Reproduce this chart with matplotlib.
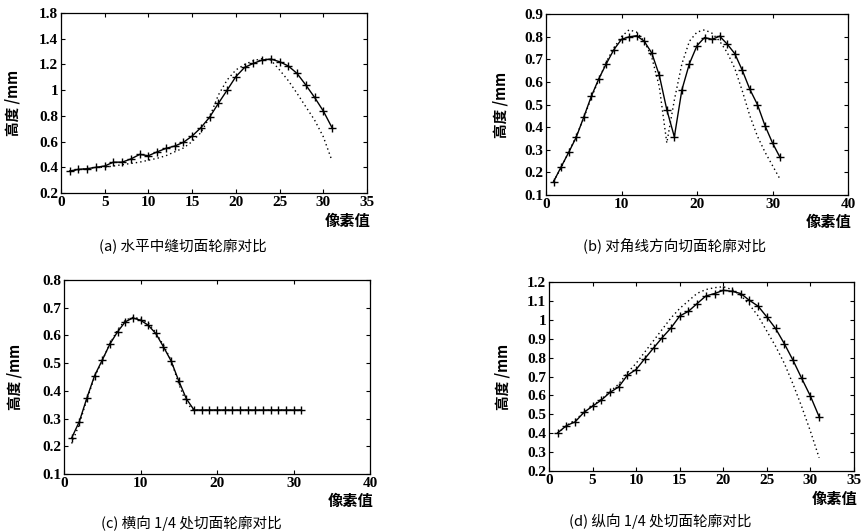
import matplotlib
matplotlib.use("Agg")
import matplotlib.pyplot as plt
import numpy as np

plt.rcParams['font.family'] = ['Liberation Serif', 'Noto Sans CJK SC', 'DejaVu Sans']

# ---------------- data ----------------
pixels = list(range(1, 32))

a_measured = [0.371, 0.384, 0.389, 0.400, 0.41, 0.44, 0.44, 0.465, 0.50, 0.49,
              0.52, 0.547, 0.565, 0.594, 0.643, 0.708, 0.79, 0.897, 1.00, 1.105,
              1.177, 1.208, 1.234, 1.242, 1.221, 1.188, 1.13, 1.04, 0.944, 0.838, 0.708]
a_model = [0.37, 0.38, 0.39, 0.40, 0.40, 0.41, 0.42, 0.43, 0.44, 0.455,
           0.47, 0.49, 0.52, 0.55, 0.60, 0.67, 0.79, 0.962, 1.079, 1.157,
           1.20, 1.229, 1.245, 1.234, 1.157, 1.074, 0.975, 0.871, 0.768, 0.638, 0.45]

b_measured = [0.159, 0.224, 0.288, 0.355, 0.444, 0.536, 0.614, 0.681, 0.743, 0.788,
              0.799, 0.804, 0.78, 0.728, 0.63, 0.477, 0.357, 0.565, 0.681, 0.76,
              0.796, 0.788, 0.802, 0.767, 0.725, 0.651, 0.567, 0.50, 0.407, 0.33, 0.266]
b_model = [0.16, 0.22, 0.29, 0.36, 0.44, 0.53, 0.61, 0.69, 0.75, 0.80,
           0.83, 0.82, 0.78, 0.71, 0.58, 0.33, 0.52, 0.68, 0.78, 0.82,
           0.83, 0.815, 0.78, 0.73, 0.66, 0.56, 0.45, 0.36, 0.29, 0.23, 0.17]

c_measured = [0.23, 0.289, 0.375, 0.455, 0.511, 0.569, 0.613, 0.649, 0.663, 0.655,
              0.637, 0.607, 0.559, 0.508, 0.436, 0.371, 0.331, 0.331, 0.331, 0.331,
              0.331, 0.331, 0.331, 0.331, 0.331, 0.331, 0.331, 0.331, 0.331, 0.331, 0.331]
c_model = [0.21, 0.28, 0.37, 0.45, 0.51, 0.57, 0.62, 0.655, 0.665, 0.66,
           0.645, 0.61, 0.565, 0.51, 0.425, 0.355, 0.33, 0.33, 0.33, 0.33,
           0.33, 0.33, 0.33, 0.33, 0.33, 0.33, 0.33, 0.33, 0.33, 0.33, 0.33]

d_measured = [0.402, 0.44, 0.46, 0.51, 0.543, 0.575, 0.616, 0.645, 0.707, 0.737,
              0.795, 0.851, 0.906, 0.957, 1.02, 1.045, 1.086, 1.126, 1.139, 1.156,
              1.151, 1.139, 1.103, 1.072, 1.015, 0.954, 0.874, 0.786, 0.69, 0.596, 0.487]
d_model = [0.40, 0.44, 0.47, 0.51, 0.545, 0.58, 0.62, 0.66, 0.72, 0.77,
           0.83, 0.89, 0.95, 1.01, 1.06, 1.10, 1.14, 1.16, 1.17, 1.175,
           1.16, 1.13, 1.08, 1.02, 0.94, 0.86, 0.77, 0.66, 0.54, 0.41, 0.27]

a_yticks = [0.2, 0.4, 0.6, 0.8, 1.0, 1.2, 1.4, 1.6]
a_yticklabels = ['0.2', '0.4', '0.6', '0.8', '1', '1.2', '1.4', '1.8']
b_yticks = [0.1, 0.2, 0.3, 0.4, 0.5, 0.6, 0.7, 0.8, 0.9]
c_yticks = [0.1, 0.2, 0.3, 0.4, 0.5, 0.6, 0.7, 0.8]
d_yticks = [0.2, 0.3, 0.4, 0.5, 0.6, 0.7, 0.8, 0.9, 1.0, 1.1, 1.2]
x35_ticks = [0, 5, 10, 15, 20, 25, 30, 35]
x40_ticks = [0, 10, 20, 30, 40]

captions = ['(a) 水平中缝切面轮廓对比', '(b) 对角线方向切面轮廓对比',
            '(c) 横向 1/4 处切面轮廓对比', '(d) 纵向 1/4 处切面轮廓对比']
ylabel = '高度 /mm'
xlabel = '像素值'

W, H = 863, 532
fig = plt.figure(figsize=(W / 100, H / 100), dpi=100)

def fx(px):
    return px / W

def fy(py):
    return 1 - py / H

def gfmt(v):
    return ('%g' % v)

panels = [
    dict(box=(61, 13, 367, 193), meas=a_measured, model=a_model, xlim=(0, 35), xt=x35_ticks,
         ylim=(0.2, 1.6), yt=a_yticks, ytl=a_yticklabels, ylab_x=13, xlab_y=221,
         cap=(183, 247)),
    dict(box=(546, 14, 848, 195), meas=b_measured, model=b_model, xlim=(0, 40), xt=x40_ticks,
         ylim=(0.1, 0.9), yt=b_yticks, ytl=None, ylab_x=500, xlab_y=222,
         cap=(675, 245)),
    dict(box=(64, 280, 370, 474), meas=c_measured, model=c_model, xlim=(0, 40), xt=x40_ticks,
         ylim=(0.1, 0.8), yt=c_yticks, ytl=None, ylab_x=15, xlab_y=501,
         cap=(191, 523)),
    dict(box=(549, 282, 854, 471), meas=d_measured, model=d_model, xlim=(0, 35), xt=x35_ticks,
         ylim=(0.2, 1.2), yt=d_yticks, ytl=None, ylab_x=502, xlab_y=499,
         cap=(660, 521)),
]

for i, p in enumerate(panels):
    l, t, r, b = p['box']
    ax = fig.add_axes([fx(l), fy(b), fx(r - l), (b - t) / H])
    ax.plot(pixels, p['model'], linestyle=(0, (1, 2.2)), color='black', linewidth=1.0)
    ax.plot(pixels, p['meas'], linestyle='-', color='black', linewidth=1.0,
            marker='+', markersize=6, markeredgewidth=1.0)
    ax.set_xlim(*p['xlim'])
    ax.set_ylim(*p['ylim'])
    ax.set_xticks(p['xt'])
    ax.set_xticklabels([gfmt(v) for v in p['xt']])
    ax.set_yticks(p['yt'])
    if p['ytl'] is not None:
        ax.set_yticklabels(p['ytl'])
    else:
        ax.set_yticklabels([gfmt(v) for v in p['yt']])
    ax.tick_params(direction='in', length=3, width=0.8, top=True, right=True,
                   labelsize=11, pad=2, colors='black')
    for lab in ax.get_xticklabels() + ax.get_yticklabels():
        lab.set_fontweight('bold')
    for s in ax.spines.values():
        s.set_linewidth(0.9)
    # y label
    fig.text(fx(p['ylab_x']), fy((t + b) / 2), ylabel, rotation=90, ha='center', va='center',
             fontsize=10.5, fontweight='bold', family=['Noto Sans CJK SC', 'DejaVu Sans'])
    # x label
    fig.text(fx(r + 3), fy(p['xlab_y']), xlabel, ha='right', va='center',
             fontsize=11, fontweight='bold', family=['Noto Sans CJK SC', 'DejaVu Sans'])
    # caption
    fig.text(fx(p['cap'][0]), fy(p['cap'][1]), captions[i], ha='center', va='center',
             fontsize=10.5, family=['Noto Sans CJK SC', 'DejaVu Sans'])

fig.savefig('out.png', dpi=100)
